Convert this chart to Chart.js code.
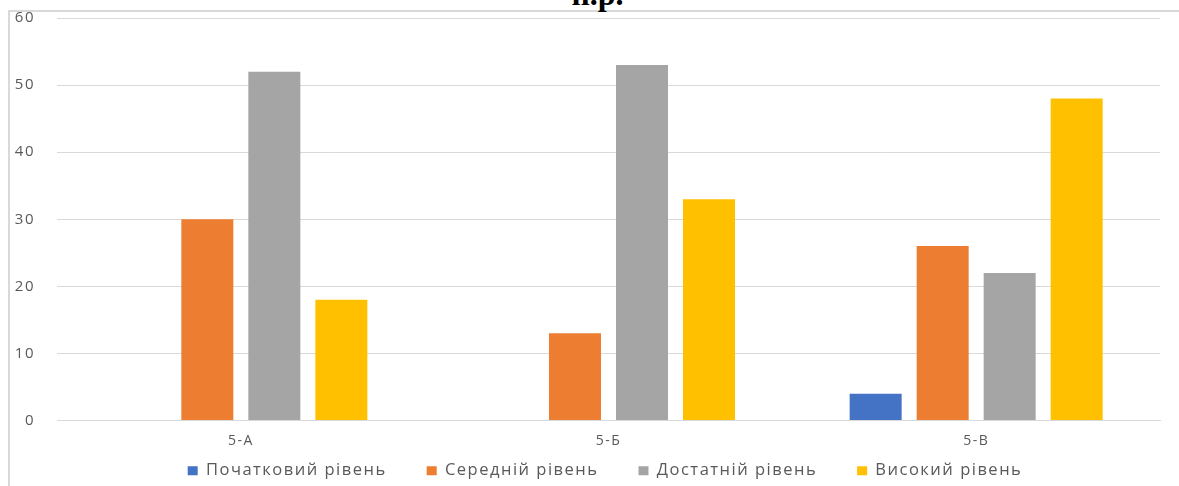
<!DOCTYPE html>
<html>
<head>
<meta charset="utf-8">
<script src="https://cdn.jsdelivr.net/npm/chart.js@4"></script>
<style>
  html, body { margin: 0; padding: 0; background: #fff; overflow: hidden; }
  #wrap { position: relative; width: 1179px; height: 486px; overflow: hidden; }
  #frame { position: absolute; left: 8px; top: 10px; right: 0; bottom: -4px;
           border-top: 2px solid #d9d9d9; border-left: 2px solid #d9d9d9; }
  #title { position: absolute; left: 8px; width: 1179px; top: -24px; text-align: center;
           font: bold 32px "Liberation Serif", serif; color: #000; }
  #box { position: absolute; left: 0; top: -13px; width: 1179px; height: 505px; }
</style>
</head>
<body>
<div id="wrap">
  <div id="frame"></div>
  <div id="title">н.р.</div>
  <div id="box"><canvas id="bar-chart"></canvas></div>
</div>
<script>
let classes = ['5-А', '5-Б', '5-В'];
let levels = ['Початковий рівень', 'Середній рівень', 'Достатній рівень', 'Високий рівень'];
let colors = ['#4472C4', '#ED7D31', '#A5A5A5', '#FFC000'];

let pochatkovyi = [0, 0, 4];
let serednii = [30, 13, 26];
let dostatnii = [52, 53, 22];
let vysokyi = [18, 33, 48];

let yTicks = [0, 10, 20, 30, 40, 50, 60];

let series = [pochatkovyi, serednii, dostatnii, vysokyi];

const data = {
    labels: classes,
    datasets: series.map((values, i) => {
        return {
            label: levels[i],
            data: values,
            backgroundColor: colors[i],
            categoryPercentage: 0.729,
            barPercentage: 0.776
        };
    })
};

const family = '"Open Sans", "Noto Sans", sans-serif';

// the picture is a bit stretched sideways, so widen the text a little
const spacing = {
    id: 'spacing',
    beforeLayout: (chart) => { chart.ctx.letterSpacing = '1.5px'; },
    beforeDraw: (chart) => { chart.ctx.letterSpacing = '1.5px'; },
    // legend in the picture sits a little right of centre
    afterLayout: (chart) => {
        chart.legend.left += 25;
        chart.legend.right += 25;
    }
};

let config = {
    type: 'bar',
    data: data,
    plugins: [spacing],
    options: {
        responsive: false,
        animation: false,
        layout: { padding: { left: 0, right: 19, top: 0, bottom: 3 } },
        plugins: {
            title: { display: false },
            tooltip: { enabled: false },
            legend: {
                position: 'bottom',
                labels: {
                    boxWidth: 10, boxHeight: 9, padding: 40,
                    color: '#595959', font: { family: family, size: 16.5 }
                }
            }
        },
        scales: {
            x: {
                afterFit: (axis) => {
                    // labels sit over the legend's top padding, as in the picture
                    axis.height = 2;
                    axis._computeLabelArea = () => undefined;
                },
                grid: { display: false, drawTicks: false },
                border: { color: '#d9d9d9', width: 1 },
                ticks: { color: '#595959', font: { family: family, size: 14 }, padding: 12 }
            },
            y: {
                min: 0, max: 60,
                afterBuildTicks: (axis) => { axis.ticks = yTicks.map(v => ({ value: v })); },
                afterFit: (axis) => { axis.width = 57; },
                grid: { color: '#d9d9d9', lineWidth: 1, drawTicks: false },
                border: { display: false },
                ticks: { color: '#595959', font: { family: family, size: 15 }, padding: 22 }
            }
        }
    }
};

let canvas = document.getElementById('bar-chart');
canvas.width = 1179;
canvas.height = 505;
canvas.style.width = '1179px';
canvas.style.height = '505px';
new Chart(canvas, config);
</script>
</body>
</html>
